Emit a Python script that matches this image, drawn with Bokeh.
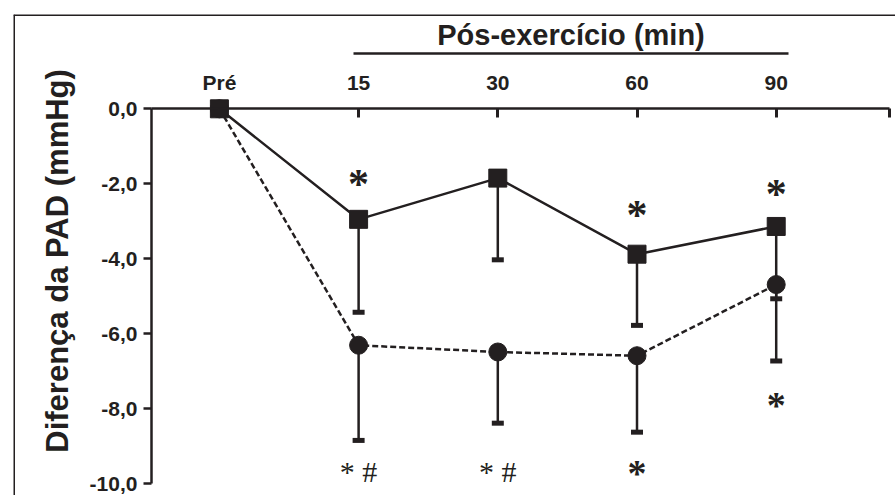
import math
from bokeh.plotting import figure
from bokeh.models import Range1d, LinearAxis, FixedTicker, Span, Label
from bokeh.core.properties import value
from bokeh.embed import file_html
from bokeh.resources import INLINE

# ---- data ----
categories = ["Pré", "15", "30", "60", "90"]
x_pos = [0, 1, 2, 3, 4]
sq_mean = [0.0, -2.95, -1.85, -3.88, -3.14]     # solid line, squares
sq_lower = [0.0, -5.43, -4.03, -5.78, -5.07]
ci_mean = [0.0, -6.31, -6.49, -6.59, -4.69]     # dashed line, circles
ci_lower = [0.0, -8.85, -8.39, -8.63, -6.73]
y_ticks = [0, -2, -4, -6, -8, -10]
y_tick_labels = ["0,0", "-2,0", "-4,0", "-6,0", "-8,0", "-10,0"]

top_marks_x = [1, 3, 4]
top_marks_y = [-1.82, -2.65, -2.08]
top_marks = ["*", "*", "*"]
single_marks_x = [3, 4]
single_marks_y = [-9.55, -7.74]
single_marks = ["*", "*"]
pair_marks_x = [1, 2]
pair_marks_y = [-9.62, -9.62]
pair_marks = ["* #", "* #"]

INK = "#231f20"
FONT = "Liberation Sans"
SERIF = "Liberation Serif"

x_rng = Range1d(-1.4792, 4.8570)
y_rng = Range1d(-10.320, 2.5167)

p = figure(width=895, height=495, x_range=x_rng, y_range=y_rng,
           output_backend="svg", toolbar_location=None,
           x_axis_location=None, y_axis_location=None,
           min_border_left=13, min_border_top=14, min_border_right=0, min_border_bottom=0)
p.outline_line_color = None
p.background_fill_color = "white"
p.border_fill_color = "white"
p.grid.visible = False

y_axis_x = -0.488
x_axis_end = 4.814

# y axis
yax = LinearAxis(fixed_location=y_axis_x, bounds=(y_ticks[-1], y_ticks[0]),
                 ticker=FixedTicker(ticks=y_ticks, minor_ticks=[]))
yax.major_label_overrides = {t: l for t, l in zip(y_ticks, y_tick_labels)}
yax.axis_line_width = 2.5
yax.axis_line_color = INK
yax.major_tick_line_width = 2.5
yax.major_tick_line_color = INK
yax.major_tick_out = 8
yax.major_tick_in = 0
yax.minor_tick_out = 0
yax.major_label_standoff = 6
yax.major_label_text_font = FONT
yax.major_label_text_font_style = "bold"
yax.major_label_text_font_size = "21px"
yax.major_label_text_color = INK
p.add_layout(yax, "left")

# y axis title
p.add_layout(Label(x=-1.163, y=-4.06, text="Diferença da PAD (mmHg)",
                   angle=math.pi / 2, text_align="center", text_baseline="middle",
                   text_font=FONT, text_font_style="bold", text_font_size="31px",
                   text_color=INK))

# x axis (top, at 0)
xticks = x_pos + [x_axis_end]
xax = LinearAxis(fixed_location=0, bounds=(y_axis_x, x_axis_end),
                 ticker=FixedTicker(ticks=xticks, minor_ticks=[]))
ov = {float(t): c for t, c in zip(x_pos, categories)}
ov[x_axis_end] = ""
xax.major_label_overrides = ov
xax.axis_line_width = 2.5
xax.axis_line_color = INK
xax.major_tick_line_width = 3
xax.major_tick_line_color = INK
xax.major_tick_out = 0
xax.major_tick_in = 9
xax.minor_tick_out = 0
xax.major_label_standoff = 15
xax.major_label_text_font = FONT
xax.major_label_text_font_style = "bold"
xax.major_label_text_font_size = "21px"
xax.major_label_text_color = INK
p.add_layout(xax, "above")

# group bracket: Pós-exercício
gax = LinearAxis(fixed_location=1.468, bounds=(x_pos[1] - 0.037, x_pos[4] + 0.088),
                 ticker=FixedTicker(ticks=[], minor_ticks=[]))
gax.axis_line_width = 2.5
gax.axis_line_color = INK
gax.major_tick_out = 0
gax.major_tick_in = 0
gax.minor_tick_out = 0
gax.axis_label = "Pós-exercício (min)"
gax.axis_label_text_font = FONT
gax.axis_label_text_font_style = "bold"
gax.axis_label_text_font_size = "29px"
gax.axis_label_text_color = INK
gax.axis_label_standoff = 3
p.add_layout(gax, "above")

# outer frame (top and left)
p.add_layout(Span(location=y_rng.end, dimension="width", line_color=INK, line_width=3))
p.add_layout(Span(location=x_rng.start, dimension="height", line_color=INK, line_width=3))

# lines
p.line(x_pos, ci_mean, line_color=INK, line_width=2.5, line_dash="6 3")
p.line(x_pos, sq_mean, line_color=INK, line_width=2.5)

# error bars (downward)
ex = x_pos[1:]
p.segment(ex, sq_mean[1:], ex, sq_lower[1:], line_color=INK, line_width=2.5)
p.segment(ex, ci_mean[1:], ex, ci_lower[1:], line_color=INK, line_width=2.5)
p.rect(ex, sq_lower[1:], width=12, height=5, width_units="screen", height_units="screen",
       fill_color=INK, line_color=None)
p.rect(ex, ci_lower[1:], width=12, height=5, width_units="screen", height_units="screen",
       fill_color=INK, line_color=None)

# markers
p.scatter(x_pos, ci_mean, marker="circle", size=18, fill_color=INK, line_color=INK)
p.scatter(x_pos, sq_mean, marker="square", size=18, fill_color=INK, line_color=INK)

# significance marks
p.text(top_marks_x, top_marks_y, text=top_marks, text_font=value(SERIF),
       text_font_size="42px", text_font_style="bold", text_align="center",
       text_baseline="middle", y_offset=7, text_color=INK)
p.text(single_marks_x, single_marks_y, text=single_marks, text_font=value(SERIF),
       text_font_size="38px", text_font_style="bold", text_align="center",
       text_baseline="middle", y_offset=6, text_color=INK)
p.text(pair_marks_x, pair_marks_y, text=pair_marks, text_font=value(SERIF),
       text_font_size="30px", text_align="center", text_baseline="middle",
       y_offset=2, text_color=INK)

open("out.html", "w").write(file_html(p, INLINE))
